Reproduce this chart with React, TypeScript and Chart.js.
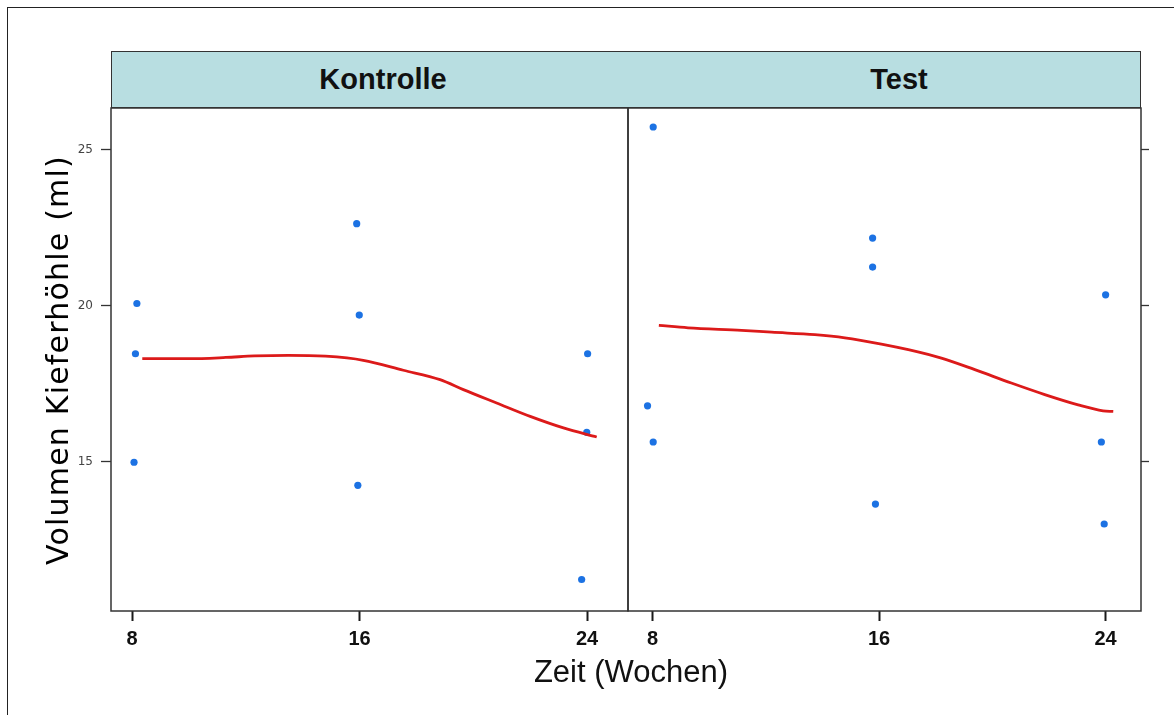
import React, { useEffect, useRef } from "react";
import { Chart, registerables } from "chart.js";

Chart.register(...registerables);

// ---- data ----
const panelNames = ["Kontrolle", "Test"];
const weekTicks = [8, 16, 24];
const volumeTicks = [15, 20, 25];

const kontrolleWeeks = [8.17, 8.12, 8.07, 15.9, 15.99, 15.94, 24.02, 23.99, 23.81];
const kontrolleVolume = [20.07, 18.46, 14.98, 22.63, 19.7, 14.24, 18.46, 15.94, 11.22];

const testWeeks = [8.02, 7.82, 8.02, 15.77, 15.77, 15.87, 24.0, 23.85, 23.95];
const testVolume = [25.73, 16.79, 15.63, 22.17, 21.24, 13.64, 20.35, 15.63, 13.0];

const kontrolleSmoothWeeks = [8.36, 10.0, 11.3, 12.3, 13.5, 14.8, 16.13, 17.54, 18.83, 19.65, 20.82, 22.0, 23.17, 24.34];
const kontrolleSmoothVolume = [18.3, 18.3, 18.34, 18.39, 18.41, 18.38, 18.25, 17.93, 17.63, 17.31, 16.88, 16.45, 16.08, 15.79];

const testSmoothWeeks = [8.22, 9.25, 11.14, 12.2, 13.73, 14.79, 16.08, 17.03, 18.2, 19.38, 20.67, 21.85, 23.03, 23.91, 24.27];
const testSmoothVolume = [19.37, 19.29, 19.21, 19.15, 19.07, 18.97, 18.77, 18.59, 18.32, 17.95, 17.52, 17.15, 16.82, 16.63, 16.61];

const yTitle = "Volumen Kieferhöhle (ml)";
const xTitle = "Zeit (Wochen)";

// ---- styles ----
const BLUE = "#1c72e3";
const RED = "#dc1a1a";
const W = 1174;
const H = 715;
const Y_MIN = 10.21;
const Y_MAX = 26.34;

const panelBox = {
  id: "panelBox",
  afterDraw(chart: any) {
    const { ctx, chartArea: a } = chart;
    ctx.save();
    ctx.strokeStyle = "#333";
    ctx.lineWidth = 1.5;
    ctx.strokeRect(a.left, a.top, a.right - a.left, a.bottom - a.top);
    ctx.restore();
  },
};

function makeConfig(
  side: "left" | "right",
  weeks: number[],
  vols: number[],
  sWeeks: number[],
  sVols: number[],
  xMin: number,
  xMax: number,
  padding: any
): any {
  return {
    type: "scatter",
    data: {
      datasets: [
        {
          type: "line",
          data: sWeeks.map((x, i) => ({ x, y: sVols[i] })),
          borderColor: RED,
          borderWidth: 2.8,
          pointRadius: 0,
          fill: false,
          cubicInterpolationMode: "monotone",
        },
        {
          type: "scatter",
          data: weeks.map((x, i) => ({ x, y: vols[i] })),
          backgroundColor: BLUE,
          borderWidth: 0,
          pointRadius: 3.6,
        },
      ],
    },
    options: {
      responsive: false,
      animation: false,
      events: [],
      layout: { padding },
      plugins: { legend: { display: false }, tooltip: { enabled: false } },
      scales: {
        x: {
          type: "linear",
          position: "bottom",
          min: xMin,
          max: xMax,
          afterBuildTicks: (s: any) => {
            s.ticks = weekTicks.map((v) => ({ value: v }));
          },
          afterFit: (s: any) => {
            s.height = 104;
          },
          grid: { drawOnChartArea: false, drawTicks: true, tickLength: 10, tickWidth: 2, tickColor: "#1a1a1a" },
          border: { display: false },
          ticks: {
            autoSkip: false,
            maxRotation: 0,
            padding: 6,
            color: "#111",
            font: { family: "'Liberation Sans', Arial, sans-serif", size: 20, weight: "bold" },
          },
        },
        y: {
          type: "linear",
          position: side,
          min: Y_MIN,
          max: Y_MAX,
          afterBuildTicks: (s: any) => {
            s.ticks = volumeTicks.map((v) => ({ value: v }));
          },
          afterFit: (s: any) => {
            s.width = side === "left" ? 111 : 33;
          },
          grid: { drawOnChartArea: false, drawTicks: true, tickLength: side === "left" ? 10 : 8, tickWidth: 1.3, tickColor: "#333" },
          border: { display: false },
          ticks: {
            display: side === "left",
            padding: 8,
            color: "#444",
            font: { family: "'DejaVu Sans', sans-serif", size: 12 },
          },
        },
      },
    },
    plugins: [panelBox],
  };
}

export default function App() {
  const leftRef = useRef<HTMLCanvasElement | null>(null);
  const rightRef = useRef<HTMLCanvasElement | null>(null);

  useEffect(() => {
    const left = new Chart(
      leftRef.current as HTMLCanvasElement,
      makeConfig("left", kontrolleWeeks, kontrolleVolume, kontrolleSmoothWeeks, kontrolleSmoothVolume, 7.26, 25.44, {
        left: 0,
        top: 108,
        right: W - 628,
        bottom: 0,
      })
    );
    const right = new Chart(
      rightRef.current as HTMLCanvasElement,
      makeConfig("right", testWeeks, testVolume, testSmoothWeeks, testSmoothVolume, 7.13, 25.25, {
        left: 628,
        top: 108,
        right: 0,
        bottom: 0,
      })
    );
    return () => {
      left.destroy();
      right.destroy();
    };
  }, []);

  const canvasStyle: React.CSSProperties = { position: "absolute", left: 0, top: 0, width: W, height: H };

  return (
    <div style={{ position: "absolute", left: 0, top: 0, width: W, height: H, background: "#fff", overflow: "hidden" }}>
      <canvas ref={leftRef} width={W} height={H} style={canvasStyle} />
      <canvas ref={rightRef} width={W} height={H} style={canvasStyle} />
      {/* outer frame */}
      <div
        style={{
          position: "absolute",
          left: 7,
          top: 7,
          width: W,
          height: H,
          borderLeft: "1.5px solid #222",
          borderTop: "1.5px solid #222",
          boxSizing: "border-box",
          pointerEvents: "none",
        }}
      />
      {/* strip */}
      <div
        style={{
          position: "absolute",
          left: 111,
          top: 51,
          width: 1141 - 111,
          height: 108 - 51,
          background: "#b8dee1",
          border: "1.5px solid #333",
          boxSizing: "border-box",
        }}
      />
      {panelNames.map((name, i) => (
        <div
          key={name}
          style={{
            position: "absolute",
            left: i === 0 ? 383 : 899,
            top: 51,
            height: 57,
            lineHeight: "57px",
            transform: "translateX(-50%)",
            fontFamily: "'Liberation Sans', Arial, sans-serif",
            fontWeight: "bold",
            fontSize: 29,
            color: "#111",
            whiteSpace: "nowrap",
          }}
        >
          {name}
        </div>
      ))}
      {/* y title */}
      <div
        style={{
          position: "absolute",
          left: 58 - 250,
          top: 360 - 18,
          width: 500,
          height: 36,
          lineHeight: "36px",
          textAlign: "center",
          transform: "rotate(-90deg)",
          transformOrigin: "50% 50%",
          fontFamily: "'DejaVu Sans', sans-serif",
          fontSize: 30,
          letterSpacing: "1.2px",
          color: "#000",
          whiteSpace: "nowrap",
        }}
      >
        {yTitle}
      </div>
      {/* x title */}
      <div
        style={{
          position: "absolute",
          left: 631 - 200,
          top: 654,
          width: 400,
          height: 36,
          lineHeight: "36px",
          textAlign: "center",
          fontFamily: "'Liberation Sans', Arial, sans-serif",
          fontSize: 31,
          color: "#111",
          whiteSpace: "nowrap",
        }}
      >
        {xTitle}
      </div>
    </div>
  );
}
